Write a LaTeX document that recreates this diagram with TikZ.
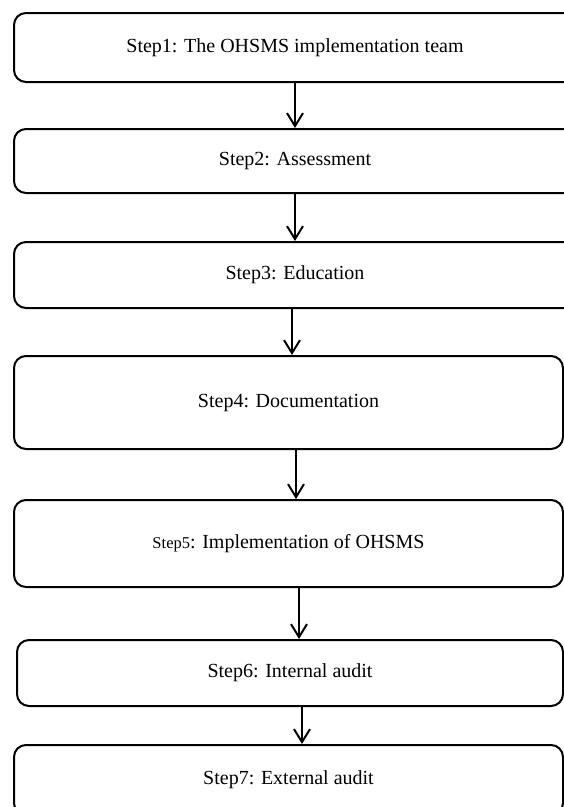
\documentclass[tikz,border=0pt]{standalone}
\usepackage{fontspec}
\setmainfont{Liberation Serif}
\usetikzlibrary{arrows.meta}
\begin{document}
\begin{tikzpicture}[x=1pt,y=-1pt,
  box/.style={draw=black,line width=2pt,rounded corners=12pt,inner sep=0pt,
    font=\fontsize{20}{24}\selectfont,anchor=center},
  arr/.style={line width=2pt,-{Straight Barb[length=13pt,width=16pt,line width=2pt]}}]
\useasboundingbox[fill=white] (0,0) rectangle (564,807);
\node[box,minimum width=562pt,minimum height=69pt] (b1) at (295,47.5) {Step1: The OHSMS implementation team};
\node[box,minimum width=562pt,minimum height=64pt] (b2) at (295,161) {Step2: Assessment};
\node[box,minimum width=562pt,minimum height=66pt] (b3) at (295,275) {Step3: Education};
\node[box,minimum width=549pt,minimum height=93pt] (b4) at (288.5,402.5) {Step4: Documentation};
\node[box,minimum width=549pt,minimum height=87pt] (b5) at (288.5,543.5) {{\fontsize{16.5}{20}\selectfont Step5}: Implementation of OHSMS};
\node[box,minimum width=546pt,minimum height=66pt] (b6) at (290,673) {Step6: Internal audit};
\node[box,minimum width=549pt,minimum height=70pt] (b7) at (288.5,780) {Step7: External audit};
\coordinate (x1) at (295,0);
\coordinate (x2) at (295,0);
\coordinate (x3) at (292,0);
\coordinate (x4) at (296,0);
\coordinate (x5) at (299,0);
\coordinate (x6) at (302,0);
\draw[arr] (b1.south -| x1) -- (b2.north -| x1);
\draw[arr] (b2.south -| x2) -- (b3.north -| x2);
\draw[arr] (b3.south -| x3) -- (b4.north -| x3);
\draw[arr] (b4.south -| x4) -- (b5.north -| x4);
\draw[arr] (b5.south -| x5) -- (b6.north -| x5);
\draw[arr] (b6.south -| x6) -- (b7.north -| x6);
\end{tikzpicture}
\end{document}
